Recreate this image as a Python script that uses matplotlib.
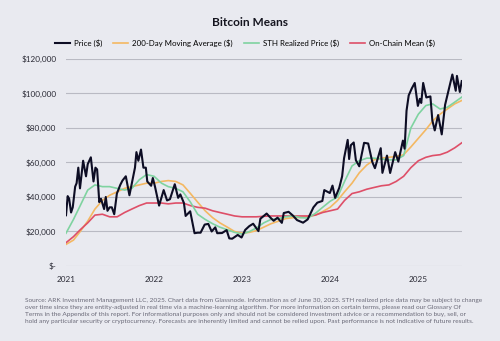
import pandas as pd
import matplotlib.pyplot as plt
import matplotlib.ticker as mticker

plt.rcParams['font.family'] = ['Lato', 'DejaVu Sans']

# Price (thousand $)
price_dates = [
    '2021-01-01', '2021-01-08', '2021-01-14', '2021-01-22', '2021-01-29', '2021-02-08', '2021-02-14',
    '2021-02-21', '2021-02-28', '2021-03-13', '2021-03-25', '2021-04-01', '2021-04-14', '2021-04-25',
    '2021-05-03', '2021-05-10', '2021-05-19', '2021-05-26', '2021-06-08', '2021-06-15', '2021-06-22',
    '2021-07-01', '2021-07-10', '2021-07-20', '2021-07-31', '2021-08-14', '2021-08-23', '2021-09-06',
    '2021-09-21', '2021-10-01', '2021-10-14', '2021-10-20', '2021-10-28', '2021-11-08', '2021-11-18',
    '2021-11-28', '2021-12-04', '2021-12-20', '2021-12-27', '2022-01-05', '2022-01-22', '2022-02-10',
    '2022-02-24', '2022-03-08', '2022-03-28', '2022-04-11', '2022-04-20', '2022-05-05', '2022-05-12',
    '2022-05-31', '2022-06-13', '2022-06-18', '2022-07-01', '2022-07-13', '2022-07-30', '2022-08-14',
    '2022-08-28', '2022-09-12', '2022-09-20', '2022-10-10', '2022-10-29', '2022-11-09', '2022-11-21',
    '2022-12-14', '2022-12-30', '2023-01-14', '2023-01-31', '2023-02-16', '2023-03-10', '2023-03-18',
    '2023-04-13', '2023-04-26', '2023-05-12', '2023-05-28', '2023-06-15', '2023-06-23', '2023-07-13',
    '2023-07-31', '2023-08-17', '2023-09-11', '2023-09-30', '2023-10-24', '2023-11-09', '2023-11-30',
    '2023-12-08', '2023-12-31', '2024-01-11', '2024-01-22', '2024-02-08', '2024-02-20', '2024-02-28',
    '2024-03-14', '2024-03-20', '2024-03-27', '2024-04-08', '2024-04-17', '2024-05-01', '2024-05-21',
    '2024-06-07', '2024-06-24', '2024-07-05', '2024-07-29', '2024-08-05', '2024-08-24', '2024-09-06',
    '2024-09-27', '2024-10-10', '2024-10-29', '2024-11-05', '2024-11-13', '2024-11-22', '2024-12-05',
    '2024-12-17', '2024-12-30', '2025-01-07', '2025-01-13', '2025-01-21', '2025-02-03', '2025-02-20',
    '2025-02-28', '2025-03-10', '2025-03-24', '2025-04-08', '2025-04-22', '2025-05-10', '2025-05-22',
    '2025-06-05', '2025-06-10', '2025-06-22', '2025-06-30',
]
price = [
    29.4, 40.5, 39, 31, 34, 46, 48,
    57, 45, 61, 52, 59, 63, 49,
    57, 56, 37, 39, 33, 40, 32,
    34, 34, 30, 42, 47, 49.5, 52,
    41, 48, 57, 66, 61, 67.5, 57,
    57, 49, 46.5, 51, 46, 35, 44,
    38, 38.7, 47.4, 39.5, 41.5, 36.5, 29,
    31.7, 22.5, 19, 19.3, 19.3, 24, 24.4,
    20, 22.4, 19, 19.1, 20.8, 16, 15.8,
    18, 16.5, 20.9, 23.1, 24.5, 20.2, 27.4,
    30.4, 28.4, 26.2, 28, 25, 30.7, 31.4,
    29.2, 26.6, 25.1, 27, 34, 36.7, 37.7,
    44, 42.3, 46.6, 39.5, 45.3, 52, 62.5,
    73.1, 62, 70, 71.6, 61.3, 57.8, 71.4,
    71, 60.3, 56.7, 68.3, 54, 64, 53.9,
    66, 60.5, 72.7, 68, 90, 98.9, 103,
    106.1, 92.8, 96.9, 94.5, 106.1, 97.7, 98.3,
    84.4, 78.6, 87.5, 76.3, 93.5, 104, 111,
    101.6, 110.2, 100.9, 107.2,
]

# Monthly series (thousand $), Jan 2021 .. Jul 2025
month_dates = pd.date_range('2021-01-01', '2025-07-01', freq='MS')
ma200 = [
    12.5, 15, 20, 26, 33, 38, 41, 43, 45, 46, 47, 48,
    48, 49, 49.5, 49, 47, 42, 37, 32, 28, 25, 22.5, 20,
    19, 19.5, 20.5, 22.5, 24.5, 26, 27.5, 28, 28.2, 28.5, 29.5, 31.5,
    34, 38, 43, 48, 54, 58.5, 61.5, 62.5, 63, 63.5, 64.5, 69,
    74, 79, 84, 88, 91, 94, 96,
]
sth = [
    19, 27, 35, 44, 47, 46, 46, 45, 44, 45, 50, 53,
    52, 48, 46, 45, 43, 37, 30, 27, 24.5, 22.5, 21, 19.5,
    18.5, 20, 22, 25, 27, 27.5, 28.5, 29, 28, 27.8, 30.5, 34,
    37.5, 40, 49, 58, 61, 62.5, 62.5, 62, 61.5, 61.5, 64, 80,
    88, 93, 94, 91, 92, 95, 98,
]
onchain = [
    13.5, 17, 21, 25, 29.5, 30, 28.5, 28.5, 31, 33, 35, 36.5,
    36.5, 36.5, 36, 36.5, 36.5, 35, 34, 33.5, 32, 31, 30, 29,
    28.5, 28.5, 28.5, 28.8, 29, 29, 29, 29, 29, 29, 29.5, 31,
    32, 33, 38, 42, 43, 44.5, 45.5, 46.5, 47, 49, 52, 57,
    61, 63, 64, 64.5, 66, 68.5, 71.5,
]

bg = '#e9eaf0'
fig = plt.figure(figsize=(5, 3.41), dpi=100)
fig.patch.set_facecolor(bg)
ax = fig.add_axes([0.132, 0.22, 0.792, 0.607])
ax.set_facecolor(bg)

ax.plot(month_dates, ma200, color='#f4b862', lw=1.2, label='200-Day Moving Average ($)', zorder=2)
ax.plot(month_dates, sth, color='#7fd3a0', lw=1.2, label='STH Realized Price ($)', zorder=3)
ax.plot(month_dates, onchain, color='#de4f68', lw=1.2, label='On-Chain Mean ($)', zorder=2)
ax.plot(pd.to_datetime(price_dates), price, color='#0d0d24', lw=1.5, label='Price ($)', zorder=4)

ax.set_ylim(0, 120)
ax.set_xlim(pd.Timestamp('2021-01-01'), pd.Timestamp('2025-07-01'))
ax.yaxis.set_major_locator(mticker.MultipleLocator(20))
ax.yaxis.set_major_formatter(mticker.FuncFormatter(
    lambda v, p: '$-' if v == 0 else f'${v * 1000:,.0f}'))
ax.set_xticks(pd.to_datetime(['2021-01-01', '2022-01-01', '2023-01-01', '2024-01-01', '2025-01-01']))
ax.set_xticklabels(['2021', '2022', '2023', '2024', '2025'])
ax.grid(axis='y', color='#b9bac3', lw=0.8)
ax.set_axisbelow(True)
for s in ax.spines.values():
    s.set_visible(False)
ax.tick_params(length=0, labelsize=5.9, colors='#2a2a35', pad=7)

fig.text(0.5, 0.935, 'Bitcoin Means', ha='center', va='center', fontsize=8.6, fontweight='bold', color='#15151f')

handles, labels = ax.get_legend_handles_labels()
order = [3, 0, 1, 2]
fig.legend([handles[i] for i in order], [labels[i] for i in order],
           loc='center', bbox_to_anchor=(0.49, 0.873), ncol=4, frameon=False,
           fontsize=5.7, handlelength=1.9, handletextpad=0.5, columnspacing=1.4)

note = ('Source: ARK Investment Management LLC, 2025. Chart data from Glassnode. Information as of June 30, 2025. STH realized price data may be subject to change\n'
        'over time since they are entity-adjusted in real time via a machine-learning algorithm. For more information on certain terms, please read our Glossary Of\n'
        'Terms in the Appendix of this report. For informational purposes only and should not be considered investment advice or a recommendation to buy, sell, or\n'
        'hold any particular security or cryptocurrency. Forecasts are inherently limited and cannot be relied upon. Past performance is not indicative of future results.')
fig.text(0.05, 0.088, note, ha='left', va='center', fontsize=4.65, color='#6a6a78', linespacing=1.42)

plt.savefig('out.png', dpi=100, facecolor=bg)
